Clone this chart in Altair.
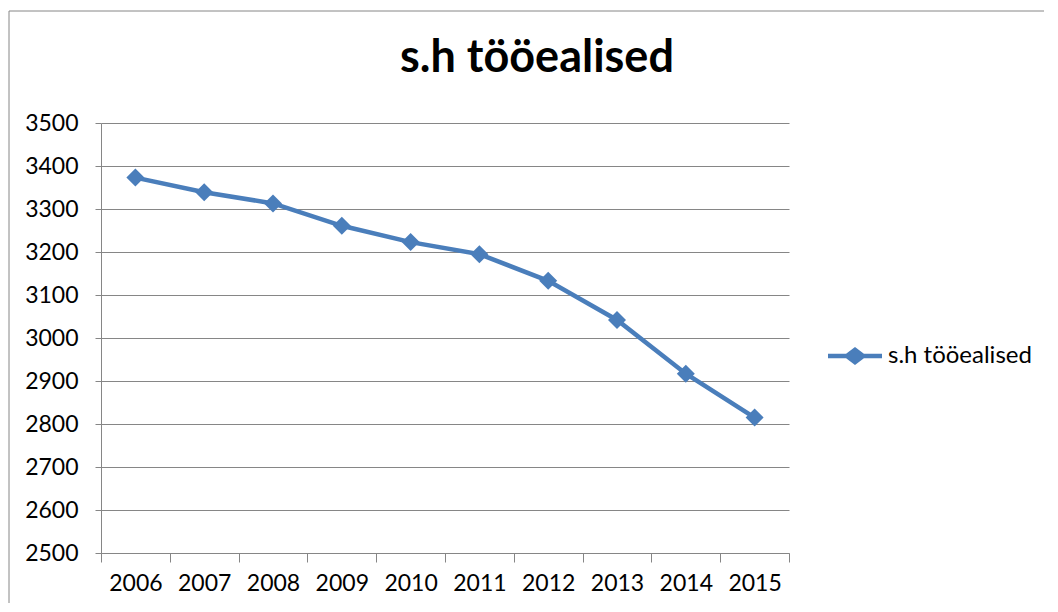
import altair as alt
import pandas as pd

years = ["2006", "2007", "2008", "2009", "2010", "2011", "2012", "2013", "2014", "2015"]
values = [3373, 3339, 3313, 3261, 3223, 3195, 3133, 3042, 2917, 2815]
series_name = "s.h tööealised"
y_ticks = list(range(2500, 3501, 100))

df = pd.DataFrame({"year": years, "value": values, "series": [series_name] * len(years)})

BLUE = "#4A7EBB"
GRID = "#868686"
FONT = "Lato"

legend_path = ("M-1,-0.08 L-0.33,-0.08 L0,-0.33 L0.33,-0.08 L1,-0.08 "
               "L1,0.08 L0.33,0.08 L0,0.33 L-0.33,0.08 L-1,0.08 Z")

x_enc = alt.X(
    "year:O",
    bandPosition=0.5,
    scale=alt.Scale(type="band", paddingInner=0, paddingOuter=0),
    axis=alt.Axis(
        title=None, labelAngle=0, tickBand="extent", tickSize=9, tickColor=GRID,
        domainColor=GRID, labelFont=FONT, labelFontSize=23, labelColor="#000000",
        labelPadding=10, grid=False,
    ),
)
y_enc = alt.Y(
    "value:Q",
    scale=alt.Scale(domain=[2500, 3500], nice=False, zero=False),
    axis=alt.Axis(
        title=None, values=y_ticks, format="d", tickSize=6, tickColor=GRID,
        domainColor=GRID, gridColor=GRID, gridWidth=1, labelFont=FONT,
        labelFontSize=23, labelColor="#000000", labelPadding=17,
    ),
)

frame = alt.Chart(pd.DataFrame({"a": [0]})).mark_rect(
    fill=None, stroke=GRID, strokeWidth=1
).encode(
    x=alt.value(-92), x2=alt.value(1000), y=alt.value(-112), y2=alt.value(600)
)

line = alt.Chart(df).mark_line(color=BLUE, strokeWidth=4.5).encode(x=x_enc, y=y_enc)

points = alt.Chart(df).mark_point(filled=True, opacity=1, shape="diamond", size=324).encode(
    x=x_enc,
    y=y_enc,
    fill=alt.Fill(
        "series:N",
        scale=alt.Scale(range=[BLUE]),
        legend=alt.Legend(
            title=None, orient="none", legendX=727, legendY=206,
            symbolType=legend_path, symbolSize=2916, symbolStrokeWidth=0,
            symbolFillColor=BLUE, labelFont=FONT, labelFontSize=24,
            labelColor="#000000", labelOffset=6, padding=0,
        ),
    ),
)

chart = alt.layer(frame, line, points).properties(
    width=688,
    height=430,
    padding={"left": 93, "top": 115, "right": 255, "bottom": 50},
    autosize=alt.AutoSizeParams(type="none"),
    title=alt.TitleParams(
        text=series_name, font=FONT, fontSize=45, fontWeight="bold", color="#000000",
        anchor="middle", dx=92, offset=-106, baseline="alphabetic",
    ),
).configure_view(stroke=None)

chart.save("out.html", embed_options={"renderer": "svg", "actions": False})
